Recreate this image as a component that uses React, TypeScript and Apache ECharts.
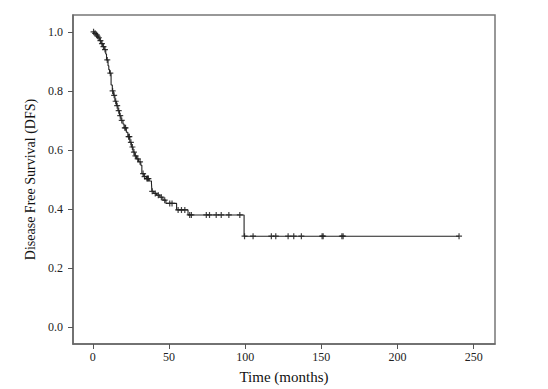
import React, { useEffect, useRef } from "react";
import * as echarts from "echarts";

const eventTimes = [0, 1, 2, 3, 3.5, 4.5, 5.5, 6.5, 7.5, 8.5, 9, 10, 10.5, 11, 12, 12.8, 13.5, 14.5, 15.5, 16.5, 17.5, 18.5, 19.8, 20.5, 22, 23, 24.3, 25.3, 26.4, 27.5, 28.7, 30, 31.5, 32.2, 33.5, 35.2, 37, 38.5, 38.8, 40, 41.8, 44, 46, 48, 55, 62.5, 99.3];
const survival = [1.0, 0.995, 0.99, 0.985, 0.98, 0.97, 0.96, 0.95, 0.94, 0.925, 0.905, 0.885, 0.872, 0.86, 0.82, 0.8, 0.785, 0.765, 0.75, 0.733, 0.716, 0.7, 0.688, 0.675, 0.66, 0.645, 0.626, 0.61, 0.593, 0.58, 0.57, 0.56, 0.548, 0.52, 0.51, 0.503, 0.495, 0.487, 0.46, 0.453, 0.447, 0.44, 0.43, 0.419, 0.397, 0.38, 0.308];
const lastFollowUp = 240.4;
const censorTimes = [0.5, 1.5, 2.5, 3.2, 4, 5, 6, 7, 8, 9.5, 11.5, 13, 14, 15, 16, 17, 18, 19, 21, 21.5, 23.5, 24, 25, 26, 27, 28, 29.5, 31, 33, 34, 35.5, 36, 36.5, 39, 41, 43, 45, 47.2, 50.5, 52, 56, 58.2, 60.4, 63.6, 64.7, 74.5, 76.6, 81, 84.3, 89.3, 96.5, 99.6, 105.2, 117.2, 120.1, 128.2, 131.9, 136.9, 150.5, 151.2, 163.5, 164.3, 240.4];
const xTicks = [0, 50, 100, 150, 200, 250];
const yTicks = [0, 0.2, 0.4, 0.6, 0.8, 1.0];

function survivalAt(t: number): number {
  let s = 1;
  for (let i = 0; i < eventTimes.length; i++) {
    if (eventTimes[i] <= t) s = survival[i];
  }
  return s;
}

const FONT = "Liberation Serif";

export default function App() {
  const ref = useRef<HTMLDivElement>(null);
  useEffect(() => {
    if (!ref.current) return;
    const chart = echarts.init(ref.current, undefined, { renderer: "svg" });
    const lineData = eventTimes.map((t, i) => [t, survival[i]]);
    lineData.push([lastFollowUp, survivalAt(lastFollowUp)]);
    const censorData = censorTimes.map((t) => [t, survivalAt(t)]);
    chart.setOption({
      animation: false,
      backgroundColor: "#fff",
      grid: {
        left: 73,
        top: 15,
        width: 422,
        height: 332,
        show: true,
        borderColor: "#777",
        borderWidth: 1.5,
        backgroundColor: "transparent",
      },
      xAxis: {
        type: "value",
        min: -13,
        max: 264,
        name: "Time (months)",
        nameLocation: "middle",
        nameGap: 25,
        nameTextStyle: { fontFamily: FONT, fontSize: 15, color: "#111" },
        axisLine: { show: true, onZero: false, lineStyle: { color: "#666", width: 1.5 } },
        axisTick: { show: true, length: 5, customValues: xTicks, lineStyle: { color: "#555" } },
        axisLabel: { customValues: xTicks, margin: 7, fontFamily: FONT, fontSize: 12, color: "#222" },
        splitLine: { show: false },
      },
      yAxis: {
        type: "value",
        min: -0.057,
        max: 1.057,
        name: "Disease Free Survival (DFS)",
        nameLocation: "middle",
        nameGap: 27,
        nameTextStyle: { fontFamily: FONT, fontSize: 14, color: "#111" },
        axisLine: { show: true, onZero: false, lineStyle: { color: "#666", width: 1.5 } },
        axisTick: { show: true, length: 5, customValues: yTicks, lineStyle: { color: "#555" } },
        axisLabel: {
          customValues: yTicks,
          margin: 10,
          fontFamily: FONT,
          fontSize: 12,
          color: "#222",
          formatter: (v: number) => v.toFixed(1),
        },
        splitLine: { show: false },
      },
      series: [
        {
          type: "line",
          step: "end",
          data: lineData,
          showSymbol: false,
          symbol: "none",
          lineStyle: { color: "#222", width: 1.1 },
        },
        {
          type: "scatter",
          data: censorData,
          symbol: "path://M2,0H3V2H5V3H3V5H2V3H0V2H2Z",
          symbolSize: 6,
          itemStyle: { color: "#111" },
        },
      ],
    });
    return () => chart.dispose();
  }, []);
  return (
    <div
      ref={ref}
      style={{ position: "fixed", left: 0, top: 0, width: 548, height: 389 }}
    />
  );
}
